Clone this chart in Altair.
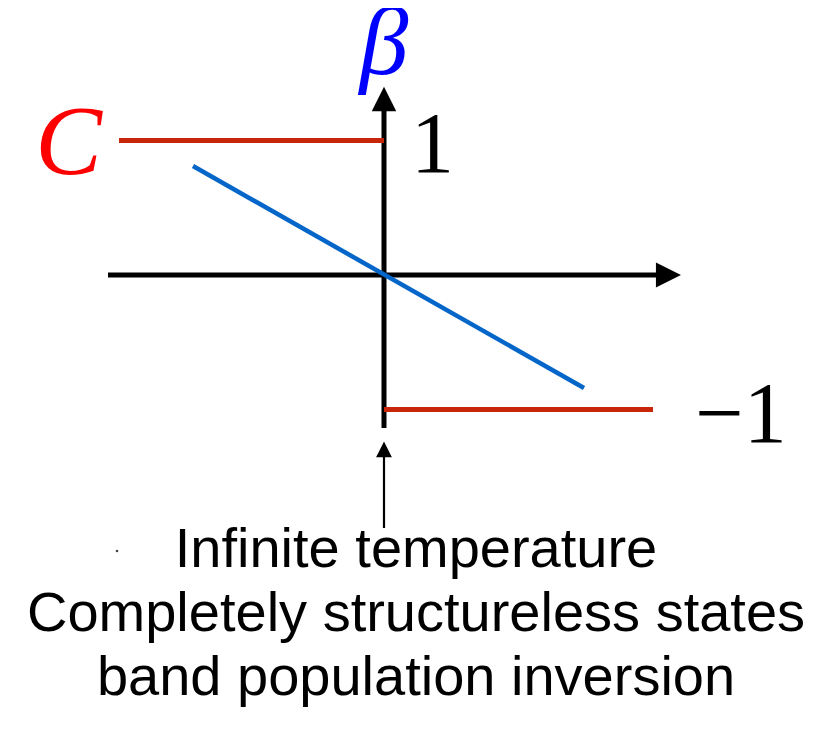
import altair as alt
import pandas as pd

# ---- values (1 unit = distance from axis to the "1" level) ----
# red step: beta = 1 for x<0 (C region), beta = -1 for x>0
red_x_start = [-1.97, 0.0]
red_x_end = [0.0, 2.0]
red_beta = [1.0, -1.0]

# blue line through the origin
blue_x = [-1.42, 1.487]
blue_beta = [0.81, -0.84]

# axes
h_axis_x = [-2.052, 2.03]
v_axis_beta = [-1.138, 1.22]
h_arrow = [2.115, 0.0]
v_arrow = [0.0, 1.309]

# "infinite temperature" pointer
pointer_beta = [-1.881, -1.338]
pointer_head = [0.0, -1.297]

# labels
tick_labels = ["1", "\u22121"]
tick_x = [0.361, 2.655]
tick_y = [0.766, -1.242]

captions = ["Infinite temperature", "Completely structureless states", "band population inversion"]
caption_x = [0.238, 0.238, 0.238]
caption_y = [-2.171, -2.645, -3.12]

speck = [-1.985, -2.052]

XD = [-2.7955, 3.3086]
YD = [-3.4052, 1.9851]


def X(f, **kw):
    return alt.X(f, type="quantitative", scale=alt.Scale(domain=XD, nice=False, zero=False), axis=None, **kw)


def Y(f, **kw):
    return alt.Y(f, type="quantitative", scale=alt.Scale(domain=YD, nice=False, zero=False), axis=None, **kw)


red_df = pd.DataFrame({"x": red_x_start, "x2": red_x_end, "y": red_beta})
blue_df = pd.DataFrame({"x": blue_x, "y": blue_beta})
haxis_df = pd.DataFrame({"x": [h_axis_x[0]], "x2": [h_axis_x[1]], "y": [0.0]})
vaxis_df = pd.DataFrame({"x": [0.0], "y": [v_axis_beta[0]], "y2": [v_axis_beta[1]]})
harrow_df = pd.DataFrame({"x": [h_arrow[0]], "y": [h_arrow[1]]})
varrow_df = pd.DataFrame({"x": [v_arrow[0]], "y": [v_arrow[1]]})
ptr_df = pd.DataFrame({"x": [0.0], "y": [pointer_beta[0]], "y2": [pointer_beta[1]]})
ptrhead_df = pd.DataFrame({"x": [pointer_head[0]], "y": [pointer_head[1]]})
tick_df = pd.DataFrame({"t": tick_labels, "x": tick_x, "y": tick_y})
cap_df = pd.DataFrame({"t": captions, "x": caption_x, "y": caption_y})
c_df = pd.DataFrame({"t": ["C"], "x": [-2.345], "y": [0.75]})
b_df = pd.DataFrame({"t": ["\u03b2"], "x": [0.0], "y": [1.494]})
speck_df = pd.DataFrame({"x": [speck[0]], "y": [speck[1]]})

haxis = alt.Chart(haxis_df).mark_rule(color="black", strokeWidth=5).encode(x=X("x"), x2="x2", y=Y("y"))
vaxis = alt.Chart(vaxis_df).mark_rule(color="black", strokeWidth=5).encode(x=X("x"), y=Y("y"), y2="y2")
harrow = alt.Chart(harrow_df).mark_point(
    shape="M-1,-1L1,0L-1,1Z", size=625, filled=True, color="black", opacity=1, strokeWidth=0
).encode(x=X("x"), y=Y("y"))
varrow = alt.Chart(varrow_df).mark_point(
    shape="M-1,1L0,-1L1,1Z", size=600, filled=True, color="black", opacity=1, strokeWidth=0
).encode(x=X("x"), y=Y("y"))

red = alt.Chart(red_df).mark_rule(color="#c8260a", strokeWidth=5).encode(x=X("x"), x2="x2", y=Y("y"))
blue = alt.Chart(blue_df).mark_line(color="#0466c8", strokeWidth=4.5).encode(x=X("x"), y=Y("y"))

ptr = alt.Chart(ptr_df).mark_rule(color="black", strokeWidth=2.2).encode(x=X("x"), y=Y("y"), y2="y2")
ptrhead = alt.Chart(ptrhead_df).mark_point(
    shape="M-1,1L0,-1L1,1Z", size=250, filled=True, color="black", opacity=1, strokeWidth=0
).encode(x=X("x"), y=Y("y"))

ticks = alt.Chart(tick_df).mark_text(
    font="Liberation Serif", fontSize=86, color="black", align="center", baseline="alphabetic"
).encode(x=X("x"), y=Y("y"), text="t:N")

caps = alt.Chart(cap_df).mark_text(
    font="Liberation Sans", fontSize=56, color="black", align="center", baseline="alphabetic"
).encode(x=X("x"), y=Y("y"), text="t:N")

c_lab = alt.Chart(c_df).mark_text(
    font="Liberation Serif", fontStyle="italic", fontSize=100, color="#ff0000",
    align="center", baseline="alphabetic"
).encode(x=X("x"), y=Y("y"), text="t:N")

b_lab = alt.Chart(b_df).mark_text(
    font="Liberation Serif", fontStyle="italic", fontSize=98, color="#0000ff",
    align="center", baseline="alphabetic"
).encode(x=X("x"), y=Y("y"), text="t:N")

speck_pt = alt.Chart(speck_df).mark_point(
    shape="square", size=5, filled=True, color="#444444", opacity=1, strokeWidth=0
).encode(x=X("x"), y=Y("y"))

chart = alt.layer(
    haxis, vaxis, harrow, varrow, red, blue, ptr, ptrhead, ticks, caps, c_lab, b_lab, speck_pt
).properties(
    width=821, height=725, autosize=alt.AutoSizeParams(type="none"), padding=0, background="white"
).configure_view(stroke=None)

chart.save("out.html", embed_options={"renderer": "svg", "actions": False})
